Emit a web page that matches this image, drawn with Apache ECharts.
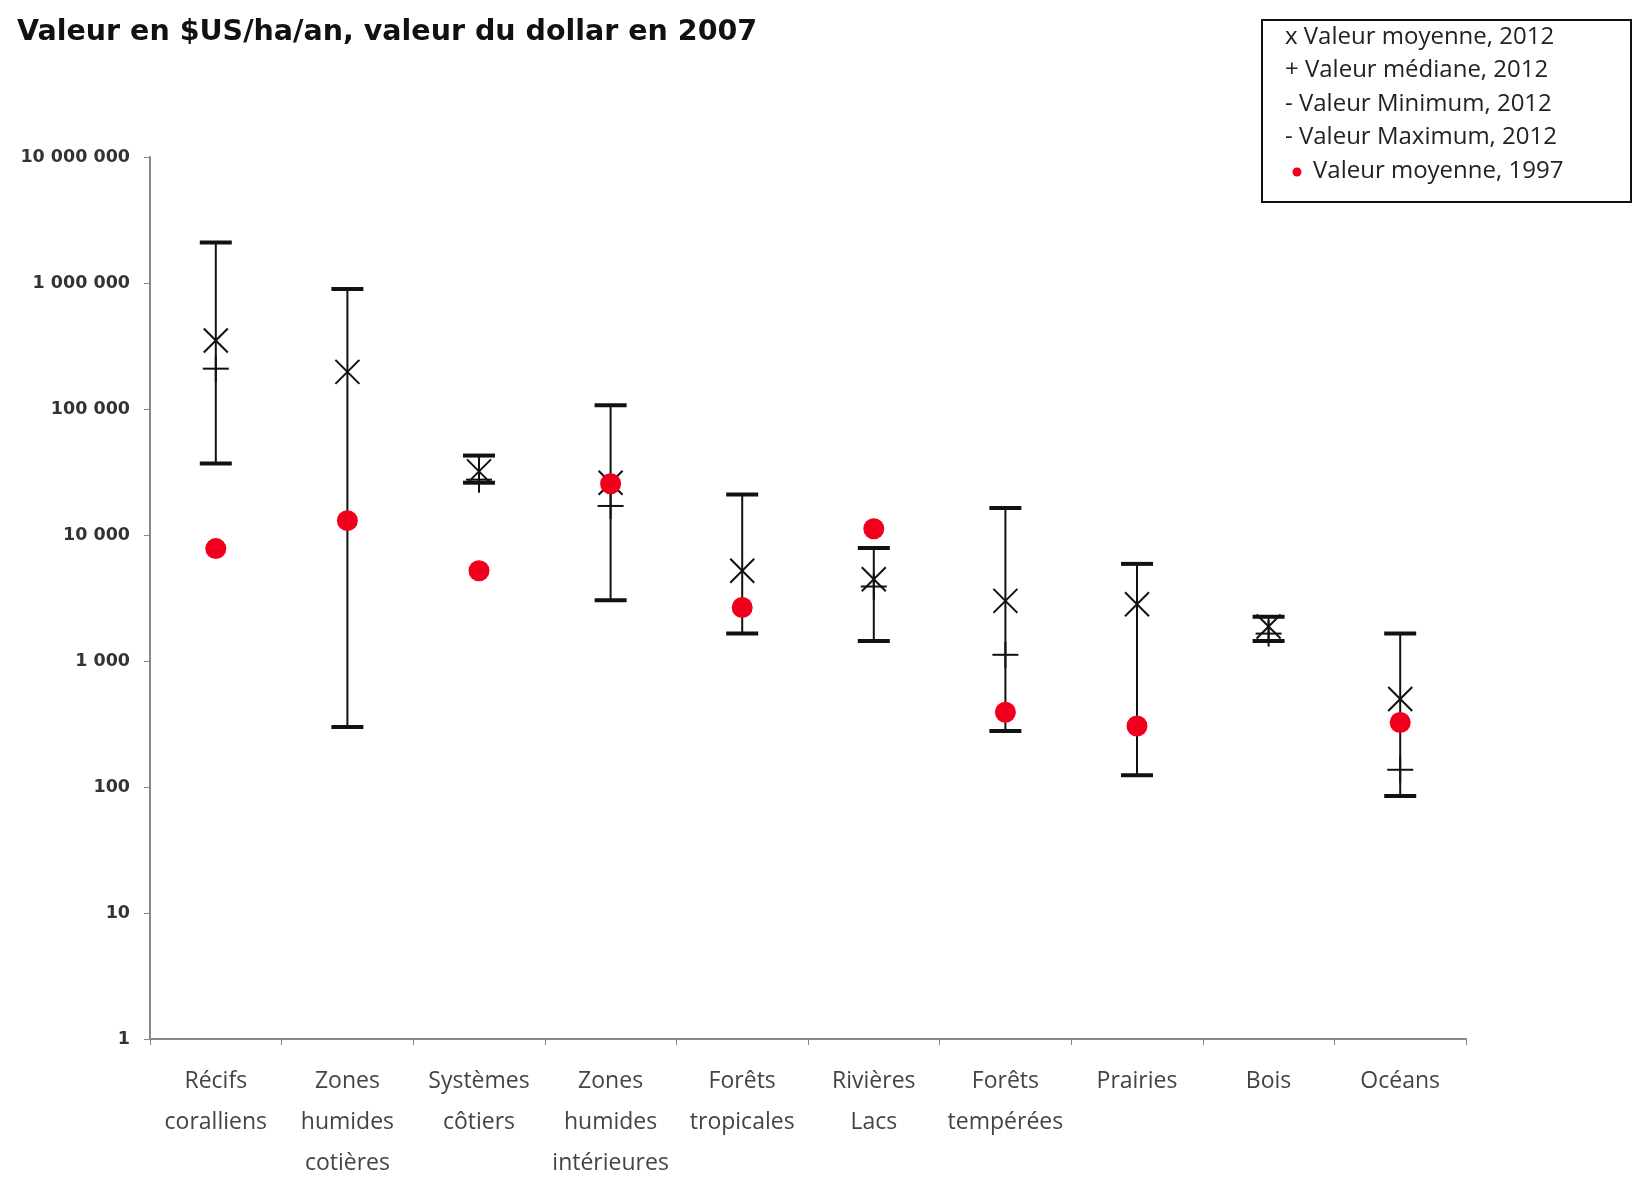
<!DOCTYPE html>
<html>
<head>
<meta charset="utf-8">
<script src="https://cdn.jsdelivr.net/npm/echarts@6/dist/echarts.min.js"></script>
<style>
  html, body { margin: 0; padding: 0; background: #fff; }
  #chart { width: 1642px; height: 1196px; }
</style>
</head>
<body>
<div id="chart"></div>
<script>
// categories (x axis)
var categories = ['Récifs\ncoralliens', 'Zones\nhumides\ncotières', 'Systèmes\ncôtiers', 'Zones\nhumides\nintérieures',
    'Forêts\ntropicales', 'Rivières\nLacs', 'Forêts\ntempérées', 'Prairies', 'Bois', 'Océans'];

var mean2012   = [350000, 197000, 32000, 26000, 5200, 4460, 3000, 2820, 1880, 500];
var median2012 = [209000, null, 27500, 17000, null, 3900, 1120, null, 1650, 137];
var min2012    = [37000, 300, 26000, 3040, 1650, 1440, 278, 124, 1440, 85];
var max2012    = [2100000, 895000, 42700, 107000, 21000, 7900, 16400, 5900, 2240, 1650];
var mean1997   = [7800, 13000, 5200, 25500, 2660, 11200, 392, 305, null, 325];

var legendLines = ['x Valeur moyenne, 2012', '+ Valeur médiane, 2012', '- Valeur Minimum, 2012', '- Valeur Maximum, 2012', 'Valeur moyenne, 1997'];

function pairs(arr) {
    var out = [];
    arr.forEach(function (v, i) { if (v != null) out.push([i, v]); });
    return out;
}

var rangeData = min2012.map(function (v, i) { return [i, v, max2012[i]]; });

function errorBar(params, api) {
    var i = api.value(0);
    var lo = api.coord([i, api.value(1)]);
    var hi = api.coord([i, api.value(2)]);
    var w = 16;
    return {
        type: 'group',
        children: [
            { type: 'line', shape: { x1: lo[0], y1: lo[1], x2: hi[0], y2: hi[1] }, style: { stroke: '#111', lineWidth: 2 } },
            { type: 'line', shape: { x1: lo[0] - w, y1: lo[1], x2: lo[0] + w, y2: lo[1] }, style: { stroke: '#111', lineWidth: 4 } },
            { type: 'line', shape: { x1: hi[0] - w, y1: hi[1], x2: hi[0] + w, y2: hi[1] }, style: { stroke: '#111', lineWidth: 4 } }
        ]
    };
}

function crossMark(params, api) {  // x
    var p = api.coord([api.value(0), api.value(1)]);
    var s = 12;
    return {
        type: 'group',
        children: [
            { type: 'line', shape: { x1: p[0] - s, y1: p[1] - s, x2: p[0] + s, y2: p[1] + s }, style: { stroke: '#111', lineWidth: 2 } },
            { type: 'line', shape: { x1: p[0] - s, y1: p[1] + s, x2: p[0] + s, y2: p[1] - s }, style: { stroke: '#111', lineWidth: 2 } }
        ]
    };
}

function plusMark(params, api) {  // +
    var p = api.coord([api.value(0), api.value(1)]);
    var s = 13;
    return {
        type: 'group',
        children: [
            { type: 'line', shape: { x1: p[0] - s, y1: p[1], x2: p[0] + s, y2: p[1] }, style: { stroke: '#111', lineWidth: 2 } },
            { type: 'line', shape: { x1: p[0], y1: p[1] - s, x2: p[0], y2: p[1] + s }, style: { stroke: '#111', lineWidth: 2 } }
        ]
    };
}

var legendGraphic = [{
    type: 'rect',
    left: 1261, top: 19,
    shape: { width: 369, height: 182 },
    style: { fill: '#fff', stroke: '#111', lineWidth: 2 }
}];
legendLines.forEach(function (t, k) {
    legendGraphic.push({
        type: 'text',
        left: k === 4 ? 1313 : 1285, top: 25 + k * 33.5,
        style: { text: t, fontSize: 24, fontFamily: 'Open Sans', fill: '#222', letterSpacing: 2.3 }
    });
});
legendGraphic.push({
    type: 'circle', shape: { cx: 1297, cy: 172, r: 4.5 }, style: { fill: '#f0001c' }
});

var chart = echarts.init(document.getElementById('chart'));
chart.setOption({
    backgroundColor: '#fff',
    animation: false,
    title: {
        text: 'Valeur en $US/ha/an, valeur du dollar en 2007',
        left: 12, top: 13,
        textStyle: { fontSize: 28.5, fontWeight: 'bold', fontFamily: 'DejaVu Sans', color: '#111' }
    },
    grid: { left: 150, right: 176, top: 157, bottom: 157 },
    xAxis: {
        type: 'category',
        data: categories,
        boundaryGap: true,
        axisLine: { lineStyle: { color: '#888', width: 2 } },
        axisTick: { show: true, length: 6, lineStyle: { color: '#888' } },
        axisLabel: { fontSize: 23, fontFamily: 'Open Sans', color: '#444', lineHeight: 41, margin: 22, interval: 0 },
        splitLine: { show: false }
    },
    yAxis: {
        type: 'log',
        logBase: 10,
        min: 1, max: 10000000,
        splitNumber: 7,
        axisLine: { show: true, lineStyle: { color: '#888', width: 2 } },
        axisTick: { show: true, length: 6, lineStyle: { color: '#888' } },
        axisLabel: {
            fontSize: 17.5, fontWeight: 'bold', fontFamily: 'DejaVu Sans', color: '#333', margin: 20,
            formatter: function (v) { return Math.round(v).toString().replace(/\B(?=(\d{3})+(?!\d))/g, ' '); }
        },
        splitLine: { show: false }
    },
    graphic: legendGraphic,
    series: [
        { name: 'Min - Max 2012', type: 'custom', renderItem: errorBar, data: rangeData, z: 2 },
        { name: 'Valeur moyenne, 2012', type: 'custom', renderItem: crossMark, data: pairs(mean2012), z: 3 },
        { name: 'Valeur médiane, 2012', type: 'custom', renderItem: plusMark, data: pairs(median2012), z: 3 },
        {
            name: 'Valeur moyenne, 1997', type: 'scatter', data: pairs(mean1997),
            symbol: 'circle', symbolSize: 21, itemStyle: { color: '#f0001c', opacity: 1 }, z: 4
        }
    ]
});
</script>
</body>
</html>
